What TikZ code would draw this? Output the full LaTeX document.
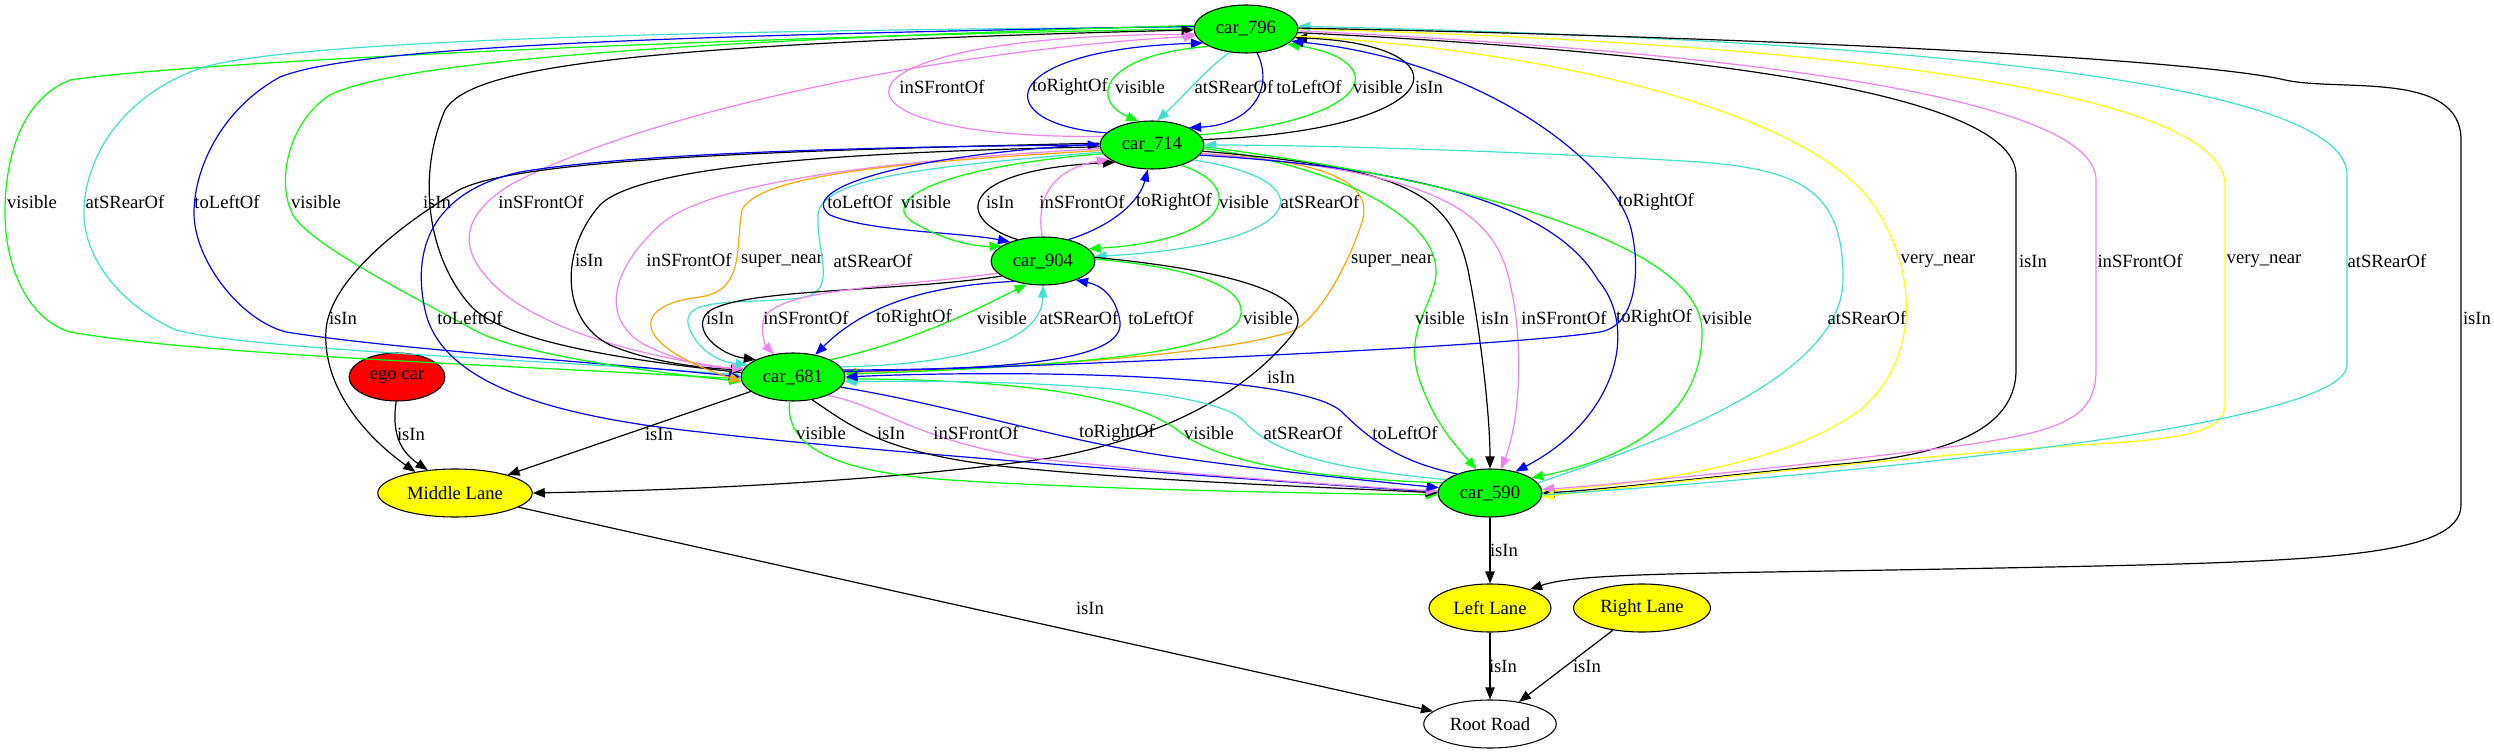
\documentclass[tikz,border=0pt]{standalone}
\usepackage{fontspec}
\setmainfont{Liberation Serif}
\usetikzlibrary{arrows.meta, shapes.geometric}

\definecolor{gvgreen}{RGB}{0,255,0}
\definecolor{gvred}{RGB}{255,0,0}
\definecolor{gvyellow}{RGB}{255,255,0}
\definecolor{gvblue}{RGB}{0,0,255}
\definecolor{gvcyan}{RGB}{64,224,208}
\definecolor{gvviolet}{RGB}{238,130,238}
\definecolor{gvorange}{RGB}{255,165,0}

\begin{document}
\begin{tikzpicture}[
    x=0.75pt, y=-0.75pt,
    every node/.style={font=\fontsize{14}{16}\selectfont},
    ent/.style={ellipse, draw, line width=0.8pt, inner xsep=5pt, minimum height=36pt},
    car/.style={ent, fill=gvgreen},
    lane/.style={ent, fill=gvyellow},
    rel/.style={-{Triangle[length=9pt, width=7pt]}, line width=0.9pt},
    lbl/.style={inner sep=1pt, text=black},
    isinE/.style={rel, black},
    visE/.style={rel, gvgreen},
    rearE/.style={rel, gvcyan},
    sideE/.style={rel, gvblue},
    frontE/.style={rel, gvviolet},
    snearE/.style={rel, gvorange},
    vnearE/.style={rel, gvyellow}
]

\useasboundingbox[fill=white] (0,0) rectangle (2494,755);

% ============ NODES ============
\node[car] (c796) at (1246,29) {car\_796};
\node[car] (c714) at (1152,145) {car\_714};
\node[car] (c904) at (1043,261) {car\_904};
\node[car] (c681) at (793,377) {car\_681};
\node[car] (c590) at (1490,493) {car\_590};
\node[ent, fill=gvred] (ego) at (397,377) {ego car};
\node[lane] (mid) at (455,493) {Middle Lane};
\node[lane] (leftl) at (1490,608) {Left Lane};
\node[lane] (rightl) at (1642,608) {Right Lane};
\node[ent, fill=white] (root) at (1490,724) {Root Road};

% ============ car_796 / car_714 ============
\draw[frontE] (c714.170) .. controls (805,140) and (805,35) .. (c796.186) node[lbl] (l1) at (942,87) {inSFrontOf};
\draw[sideE] (c714.165) .. controls (990,125) and (990,50) .. (c796.198) node[lbl] (l2) at (1070,87) {toRightOf};
\draw[visE] (c796.205) .. controls (1100,55) and (1090,100) .. (c714.120) node[lbl] (l3) at (1140,87) {visible};
\draw[rearE] (c796.235) .. controls (1205,70) and (1180,100) .. (c714.78) node[lbl] (l4) at (1234,87) {atSRearOf};
\draw[sideE] (c796.295) .. controls (1275,90) and (1250,125) .. (c714.25) node[lbl] (l5) at (1309,87) {toLeftOf};
\draw[visE] (c714.12) .. controls (1380,120) and (1390,60) .. (c796.-20) node[lbl] (l6) at (1378,87) {visible};
\draw[isinE] (c714.6) .. controls (1455,130) and (1470,45) .. (c796.-10) node[lbl] (l7) at (1429,87) {isIn};

% ============ LEFT LOOPS car_796 / car_681 ============
\draw[visE] (c796.180) .. controls (800,35) and (200,60) .. (70,80) .. controls (20,100) and (5,160) .. (5,213) .. controls (5,270) and (30,320) .. (70,332) .. controls (200,355) and (500,365) .. (c681.182) node[lbl] (l8) at (32,202) {visible};
\draw[rearE] (c796.178) .. controls (700,30) and (300,40) .. (204,67) .. controls (120,95) and (84,160) .. (84,213) .. controls (84,265) and (130,310) .. (176,330) .. controls (250,350) and (550,360) .. (c681.178) node[lbl] (l9) at (125,202) {atSRearOf};
\draw[sideE] (c796.177) .. controls (700,35) and (360,45) .. (280,77) .. controls (220,110) and (194,170) .. (194,213) .. controls (194,260) and (240,320) .. (286,332) .. controls (400,350) and (600,362) .. (c681.180) node[lbl] (l10) at (227,202) {toLeftOf};
\draw[visE] (c796.176) .. controls (700,40) and (400,60) .. (330,95) .. controls (290,120) and (275,180) .. (293,215) .. controls (310,245) and (420,300) .. (474,330) .. controls (520,355) and (650,372) .. (c681.185) node[lbl] (l11) at (316,202) {visible};
\draw[isinE] (c681.175) .. controls (620,360) and (500,340) .. (470,305) .. controls (430,260) and (415,180) .. (445,110) .. controls (470,70) and (600,45) .. (c796.181) node[lbl] (l12) at (437,202) {isIn};
\draw[frontE] (c681.172) .. controls (620,355) and (520,320) .. (485,275) .. controls (455,240) and (470,210) .. (510,185) .. controls (650,110) and (950,50) .. (c796.188) node[lbl] (l13) at (541,202) {inSFrontOf};

% ============ car_714 to the left ============
\draw[isinE] (c714.178) .. controls (800,150) and (520,158) .. (459,190) .. controls (400,225) and (330,280) .. (326,330) .. controls (322,390) and (370,440) .. (mid.152) node[lbl] (l14) at (343,318) {isIn};
\draw[sideE] (c590.179) .. controls (1250,480) and (850,450) .. (700,432) .. controls (540,415) and (440,380) .. (425,310) .. controls (410,240) and (440,190) .. (520,172) .. controls (650,150) and (950,146) .. (c714.180) node[lbl] (l15) at (470,318) {toLeftOf};
\draw[isinE] (c714.182) .. controls (850,152) and (640,165) .. (600,205) .. controls (560,250) and (560,320) .. (610,345) .. controls (650,362) and (700,368) .. (c681.172) node[lbl] (l16) at (589,260) {isIn};
\draw[frontE] (c714.184) .. controls (900,160) and (710,180) .. (660,225) .. controls (610,270) and (600,320) .. (645,345) .. controls (680,362) and (710,368) .. (c681.170) node[lbl] (l17) at (689,260) {inSFrontOf};
\draw[snearE] (c714.186) .. controls (950,160) and (760,170) .. (742,210) .. controls (735,250) and (745,290) .. (700,297) .. controls (630,305) and (630,345) .. (c681.185) node[lbl] (l18) at (782,261) {super\_near};
\draw[rearE] (c714.188) .. controls (950,165) and (820,175) .. (818,215) .. controls (816,255) and (840,292) .. (800,298) .. controls (740,305) and (675,295) .. (690,330) .. controls (700,352) and (720,362) .. (c681.165) node[lbl] (l19) at (873,261) {atSRearOf};

% ============ car_714 / car_904 ============
\draw[sideE] (c714.179) .. controls (900,155) and (795,190) .. (830,215) .. controls (870,232) and (960,232) .. (c904.150) node[lbl] (l20) at (860,202) {toLeftOf};
\draw[visE] (c714.190) .. controls (960,165) and (880,195) .. (910,220) .. controls (940,240) and (975,247) .. (c904.160) node[lbl] (l21) at (926,202) {visible};
\draw[isinE] (c904.140) .. controls (955,220) and (955,170) .. (c714.205) node[lbl] (l22) at (1000,202) {isIn};
\draw[frontE] (c904.92) .. controls (1036,200) and (1050,170) .. (c714.198) node[lbl] (l23) at (1082,202) {inSFrontOf};
\draw[sideE] (c904.40) .. controls (1115,225) and (1140,200) .. (c714.260) node[lbl] (l24) at (1174,202) {toRightOf};
\draw[visE] (c714.-35) .. controls (1245,185) and (1235,240) .. (c904.15) node[lbl] (l25) at (1244,202) {visible};
\draw[rearE] (c714.-20) .. controls (1330,180) and (1310,245) .. (c904.5) node[lbl] (l26) at (1320,202) {atSRearOf};
\draw[snearE] (c714.-10) .. controls (1320,160) and (1375,180) .. (1362,222) .. controls (1350,260) and (1320,320) .. (1290,332) .. controls (1200,360) and (950,370) .. (c681.5) node[lbl] (l27) at (1392,261) {super\_near};

% ============ car_904 / car_681 ============
\draw[isinE] (c904.200) .. controls (900,292) and (740,288) .. (708,312) .. controls (690,330) and (720,355) .. (c681.155) node[lbl] (l28) at (720,318) {isIn};
\draw[frontE] (c904.195) .. controls (900,287) and (780,288) .. (764,318) .. controls (760,330) and (765,345) .. (c681.130) node[lbl] (l29) at (806,318) {inSFrontOf};
\draw[sideE] (c904.215) .. controls (940,285) and (870,300) .. (c681.45) node[lbl] (l30) at (914,318) {toRightOf};
\draw[visE] (c681.25) .. controls (920,340) and (985,305) .. (c904.235) node[lbl] (l31) at (1002,318) {visible};
\draw[rearE] (c681.12) .. controls (950,365) and (1042,345) .. (c904.270) node[lbl] (l32) at (1079,318) {atSRearOf};
\draw[sideE] (c681.8) .. controls (1000,370) and (1125,362) .. (1120,322) .. controls (1116,295) and (1100,285) .. (c904.-30) node[lbl] (l33) at (1161,318) {toLeftOf};
\draw[visE] (c904.2) .. controls (1200,268) and (1250,290) .. (1240,318) .. controls (1228,350) and (1100,365) .. (c681.3) node[lbl] (l34) at (1268,318) {visible};
\draw[isinE] (c904.4) .. controls (1250,272) and (1320,300) .. (1292,335) .. controls (1240,400) and (1150,440) .. (1050,458) .. controls (900,480) and (700,490) .. (mid.0) node[lbl] (l35) at (1281,377) {isIn};

% ============ car_714 to car_590 ============
\draw[visE] (c714.-4) .. controls (1330,165) and (1440,215) .. (1436,275) .. controls (1433,305) and (1405,330) .. (1418,375) .. controls (1432,420) and (1455,445) .. (c590.120) node[lbl] (l36) at (1440,318) {visible};
\draw[isinE] (c714.-7) .. controls (1400,168) and (1450,190) .. (1468,270) .. controls (1482,340) and (1490,420) .. (c590.90) node[lbl] (l37) at (1495,318) {isIn};
\draw[frontE] (c714.-10) .. controls (1420,170) and (1490,205) .. (1508,275) .. controls (1525,340) and (1520,420) .. (c590.65) node[lbl] (l38) at (1564,318) {inSFrontOf};
\draw[sideE] (c714.-12) .. controls (1450,170) and (1560,215) .. (1598,280) .. controls (1640,330) and (1615,420) .. (c590.40) node[lbl] (l39) at (1654,318) {toRightOf};
\draw[visE] (c714.-2) .. controls (1500,185) and (1700,250) .. (1702,330) .. controls (1704,420) and (1620,460) .. (c590.20) node[lbl] (l40) at (1727,318) {visible};
\draw[rearE] (c590.12) .. controls (1650,445) and (1842,380) .. (1843,280) .. controls (1844,190) and (1800,170) .. (1700,162) .. controls (1500,150) and (1300,145) .. (c714.0) node[lbl] (l41) at (1867,318) {atSRearOf};

% ============ car_681 to car_796 (right side) ============
\draw[sideE] (c681.6) .. controls (1000,368) and (1500,348) .. (1600,332) .. controls (1640,325) and (1640,260) .. (1630,225) .. controls (1610,160) and (1480,60) .. (c796.-15) node[lbl] (l42) at (1656,202) {toRightOf};

% ============ car_796 to car_590 ============
\draw[vnearE] (c796.-8) .. controls (1550,50) and (1800,110) .. (1870,200) .. controls (1920,270) and (1920,360) .. (1860,410) .. controls (1780,470) and (1620,485) .. (c590.2) node[lbl] (l43) at (1938,261) {very\_near};
\draw[isinE] (c796.-4) .. controls (1750,55) and (2016,100) .. (2016,175) -- (2016,370) .. controls (2016,440) and (1920,458) .. (1830,465) .. controls (1700,478) and (1600,490) .. (c590.0) node[lbl] (l44) at (2033,261) {isIn};
\draw[frontE] (c796.-2) .. controls (1800,55) and (2096,105) .. (2096,180) -- (2096,370) .. controls (2096,420) and (2060,432) .. (1950,447) .. controls (1800,466) and (1600,486) .. (c590.4) node[lbl] (l45) at (2140,261) {inSFrontOf};
\draw[vnearE] (c796.0) .. controls (1900,45) and (2225,100) .. (2225,185) -- (2225,405) .. controls (2225,440) and (2150,440) .. (2050,447) .. controls (1850,462) and (1600,490) .. (c590.-4) node[lbl] (l46) at (2264,261) {very\_near};
\draw[rearE] (c590.-2) .. controls (1800,478) and (2347,430) .. (2347,365) -- (2347,175) .. controls (2347,80) and (1900,40) .. (c796.3) node[lbl] (l47) at (2387,261) {atSRearOf};
\draw[isinE] (c796.1) .. controls (1800,38) and (2200,60) .. (2285,80) .. controls (2340,92) and (2461,70) .. (2461,140) -- (2461,505) .. controls (2461,560) and (2300,562) .. (2000,568) .. controls (1700,574) and (1580,572) .. (leftl.25) node[lbl] (l48) at (2477,318) {isIn};

% ============ car_681 / car_590 ============
\draw[visE] (c681.262) .. controls (785,445) and (830,472) .. (950,480) .. controls (1100,490) and (1350,494) .. (c590.182) node[lbl] (l49) at (821,433) {visible};
\draw[isinE] (c681.-50) .. controls (850,425) and (880,452) .. (1000,466) .. controls (1150,482) and (1350,488) .. (c590.180) node[lbl] (l50) at (891,433) {isIn};
\draw[frontE] (c681.-28) .. controls (880,405) and (915,440) .. (1030,458) .. controls (1200,476) and (1350,486) .. (c590.178) node[lbl] (l51) at (976,433) {inSFrontOf};
\draw[sideE] (c681.-12) .. controls (950,405) and (1060,440) .. (1160,455) .. controls (1260,470) and (1380,482) .. (c590.174) node[lbl] (l52) at (1117,433) {toRightOf};
\draw[visE] (c590.168) .. controls (1300,478) and (1215,460) .. (1180,432) .. controls (1130,392) and (1000,380) .. (c681.-2) node[lbl] (l53) at (1209,433) {visible};
\draw[rearE] (c590.163) .. controls (1320,468) and (1270,450) .. (1245,422) .. controls (1210,385) and (1000,380) .. (c681.-5) node[lbl] (l54) at (1303,433) {atSRearOf};
\draw[sideE] (c590.150) .. controls (1400,462) and (1370,440) .. (1342,412) .. controls (1300,372) and (1000,370) .. (c681.0) node[lbl] (l55) at (1405,433) {toLeftOf};

% ============ LANES AND ROAD ============
\draw[isinE] (ego.-92) .. controls (392,430) and (398,450) .. (mid.140) node[lbl] (l56) at (411,434) {isIn};
\draw[isinE] (c681) -- (mid) node[lbl] (l57) at (659,434) {isIn};
\draw[isinE] (c590) -- (leftl) node[lbl] (l58) at (1504,550) {isIn};
\draw[isinE] (mid) -- (root) node[lbl] (l59) at (1090,608) {isIn};
\draw[isinE] (leftl) -- (root) node[lbl] (l60) at (1503,666) {isIn};
\draw[isinE] (rightl) -- (root) node[lbl] (l61) at (1587,666) {isIn};

\end{tikzpicture}
\end{document}
